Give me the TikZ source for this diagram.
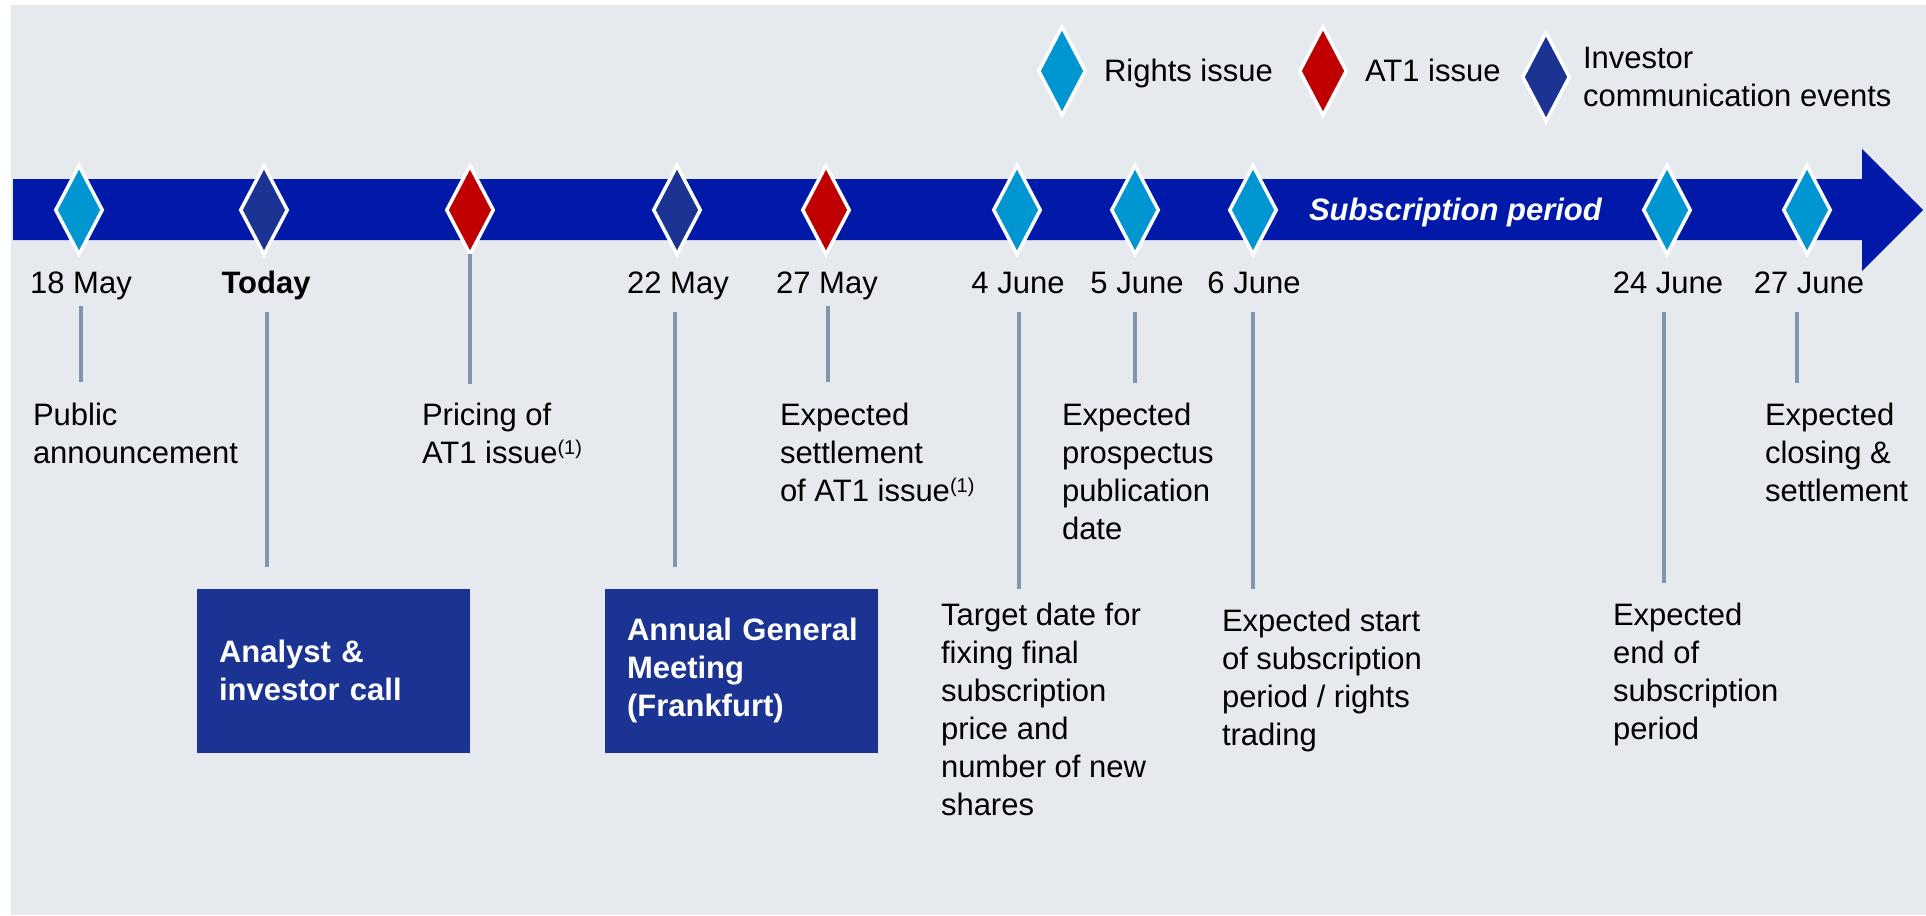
\documentclass[tikz,border=0pt]{standalone}
\usepackage{fontspec}
\setmainfont{Liberation Sans}
\usetikzlibrary{shapes.geometric}
\definecolor{bgc}{RGB}{230,233,238}
\definecolor{barc}{RGB}{0,25,168}
\definecolor{rightsc}{RGB}{0,150,210}
\definecolor{atc}{RGB}{192,0,0}
\definecolor{invc}{RGB}{27,51,147}
\definecolor{tickc}{RGB}{127,150,174}
\newcommand\ml[1]{\begin{tabular}[t]{@{}l@{}}#1\end{tabular}}
\newcommand\fnm{\raisebox{9pt}{\fontsize{20}{20}\selectfont(1)}}
\begin{document}
\begin{tikzpicture}[x=1pt,y=-1pt,
  every node/.style={font=\fontsize{31}{38}\selectfont, inner sep=0pt, outer sep=0pt},
  dia/.style={shape=diamond, draw=white, line width=3.5pt, minimum width=46.5pt, minimum height=88.5pt, inner sep=0pt},
  rights/.style={dia, fill=rightsc},
  atone/.style={dia, fill=atc},
  inv/.style={dia, fill=invc},
  datelbl/.style={anchor=base},
  desc/.style={anchor=base west},
  evbox/.style={fill=invc, text=white, font=\fontsize{31}{38}\selectfont\bfseries, anchor=north west,
    minimum width=273pt, minimum height=163.5pt, text width=229pt, inner xsep=22pt, align=left},
  tick/.style={draw=tickc, line width=3.5pt}
]
\useasboundingbox (0,0) rectangle (1926,915);
\fill[bgc] (11,5) rectangle (1926,915);

% timeline arrow
\fill[barc] (13,179) -- (1862,179) -- (1862,149) -- (1923,210) -- (1862,271) -- (1862,240) -- (13,240) -- cycle;
\node[anchor=base west, text=white, font=\fontsize{31}{38}\selectfont\bfseries\itshape] (sub) at (1309,220) {Subscription period};

% legend
\node[rights] (lg1) at (1062,71) {};
\node[desc] (lgt1) at (1104,82) {Rights issue};
\node[atone] (lg2) at (1323,71) {};
\node[desc] (lgt2) at (1365,82) {AT1 issue};
\node[inv] (lg3) at (1546,77) {};
\node[desc] (lgt3) at (1583,69) {\ml{Investor\\communication events}};

% tick end coordinates
\coordinate (a1) at (81,306);   \coordinate (b1) at (81,382);
\coordinate (a2) at (267,312);  \coordinate (b2) at (267,567);
\coordinate (b3) at (470,384);
\coordinate (a4) at (675,312);  \coordinate (b4) at (675,567);
\coordinate (a5) at (828,306);  \coordinate (b5) at (828,382);
\coordinate (a6) at (1019,312); \coordinate (b6) at (1019,589);
\coordinate (a7) at (1135,312); \coordinate (b7) at (1135,383);
\coordinate (a8) at (1253,312); \coordinate (b8) at (1253,589);
\coordinate (a9) at (1664,312); \coordinate (b9) at (1664,583);
\coordinate (a10) at (1797,312); \coordinate (b10) at (1797,383);

% milestones
\node[rights] (d1) at (79,210) {};
\node[inv] (d2) at (264,210) {};
\node[atone] (d3) at (470,210) {};
\node[inv] (d4) at (677,210) {};
\node[atone] (d5) at (826,210) {};
\node[rights] (d6) at (1017,210) {};
\node[rights] (d7) at (1135,210) {};
\node[rights] (d8) at (1253,210) {};
\node[rights] (d9) at (1667,210) {};
\node[rights] (d10) at (1807,210) {};

% ticks
\draw[tick] (a1) -- (b1);
\draw[tick] (a2) -- (b2);
\draw[tick] (d3.south) -- (b3);
\draw[tick] (a4) -- (b4);
\draw[tick] (a5) -- (b5);
\draw[tick] (a6) -- (b6);
\draw[tick] (a7) -- (b7);
\draw[tick] (a8) -- (b8);
\draw[tick] (a9) -- (b9);
\draw[tick] (a10) -- (b10);

% date labels
\node[datelbl] (l1) at (81,293) {18 May};
\node[datelbl, font=\fontsize{31}{38}\selectfont\bfseries] (l2) at (266,293) {Today};
\node[datelbl] (l4) at (678,293) {22 May};
\node[datelbl] (l5) at (827,293) {27 May};
\node[datelbl] (l6) at (1018,293) {4 June};
\node[datelbl] (l7) at (1137,293) {5 June};
\node[datelbl] (l8) at (1254,293) {6 June};
\node[datelbl] (l9) at (1668,293) {24 June};
\node[datelbl] (l10) at (1809,293) {27 June};

% descriptions
\node[desc] (t1) at (33,425) {\ml{Public\\announcement}};
\node[desc] (t3) at (422,425) {\ml{Pricing of\\AT1 issue\fnm}};
\node[desc] (t5) at (780,425) {\ml{Expected\\settlement\\of AT1 issue\fnm}};
\node[desc] (t7) at (1062,425) {\ml{Expected\\prospectus\\publication\\date}};
\node[desc] (t10) at (1765,425) {\ml{Expected\\closing \&\\settlement}};
\node[desc] (t6) at (941,625) {\ml{Target date for\\fixing final\\subscription\\price and\\number of new\\shares}};
\node[desc] (t8) at (1222,631) {\ml{Expected start\\of subscription\\period / rights\\trading}};
\node[desc] (t9) at (1613,625) {\ml{Expected\\end of\\subscription\\period}};

% event boxes
\node[evbox] (t2) at (197,589) {\mbox{Analyst \&}\\\mbox{investor call}};
\node[evbox] (t4) at (605,589) {\mbox{Annual General}\\\mbox{Meeting}\\\mbox{(Frankfurt)}};
\end{tikzpicture}
\end{document}
